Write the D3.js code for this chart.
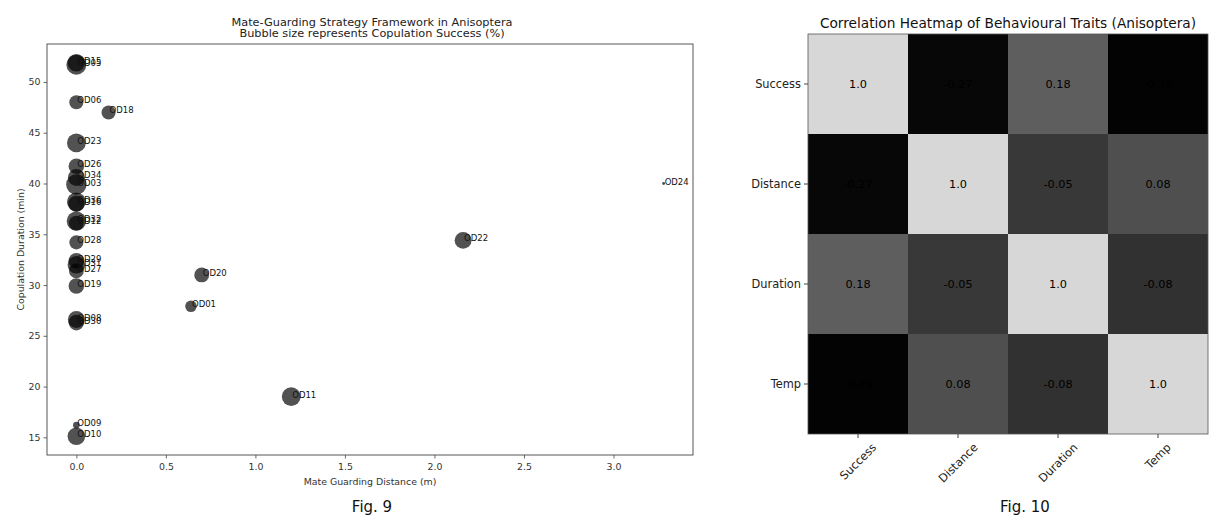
<!DOCTYPE html>
<html>
<head>
<meta charset="utf-8">
<script src="https://cdn.jsdelivr.net/npm/d3@7"></script>
<style>
  html, body { margin: 0; padding: 0; background: #fff; }
  svg { display: block; }
  text { font-family: "DejaVu Sans", sans-serif; }
</style>
</head>
<body>
<svg id="fig" width="1226" height="516"></svg>
<script>
// ---- Fig. 9 : mate-guarding bubbles ----
const specimenIds = ["OD05","OD15","OD06","OD18","OD23","OD26","OD34","OD03","OD36","OD16","OD32","OD12","OD28","OD29","OD31","OD27","OD19","OD20","OD01","OD22","OD08","OD30","OD11","OD09","OD10","OD24"];
const guardDistance = [0.0,0.0,0.0,0.18,0.0,0.0,0.0,0.0,0.0,0.0,0.0,0.0,0.0,0.0,0.0,0.0,0.0,0.70,0.64,2.16,0.0,0.0,1.20,0.0,0.0,3.28];
const copDuration   = [51.7,51.9,48.0,47.0,44.0,41.7,40.6,39.9,38.2,38.0,36.3,36.1,34.2,32.4,32.0,31.4,29.9,31.0,27.9,34.4,26.6,26.3,19.0,16.2,15.1,40.0];
const copSuccess    = [90,70,45,45,80,55,65,95,80,60,85,50,45,55,70,50,55,50,30,65,65,55,80,10,70,2];
const xTicks = [0.0,0.5,1.0,1.5,2.0,2.5,3.0];
const yTicks = [15,20,25,30,35,40,45,50];

// ---- Fig. 10 : trait correlation matrix ----
const traits = ["Success","Distance","Duration","Temp"];
const corrSuccess  = [1.0,-0.27,0.18,-0.29];
const corrDistance = [-0.27,1.0,-0.05,0.08];
const corrDuration = [0.18,-0.05,1.0,-0.08];
const corrTemp     = [-0.29,0.08,-0.08,1.0];

const svg = d3.select("#fig");

// ================= Bubble chart =================
const L = {left: 47, right: 693, top: 44, bottom: 455};
const pts = specimenIds.map((id, i) => ({id, x: guardDistance[i], y: copDuration[i], s: copSuccess[i]}));

function padded(vals) {
  const lo = d3.min(vals), hi = d3.max(vals), span = hi - lo;
  return [lo - 0.05 * span, hi + 0.05 * span];
}
const x = d3.scaleLinear().domain(padded(guardDistance)).range([L.left, L.right]);
const y = d3.scaleLinear().domain(padded(copDuration)).range([L.bottom, L.top]);
const r = d3.scaleSqrt().domain([0, 100]).range([0, 10.5]);

const g1 = svg.append("g");
const clip = g1.append("clipPath").attr("id", "plotclip");
clip.append("rect").attr("x", L.left).attr("y", L.top)
  .attr("width", L.right - L.left).attr("height", L.bottom - L.top);

const bubbles = g1.append("g").attr("clip-path", "url(#plotclip)");
bubbles.selectAll("circle").data(pts).join("circle")
  .attr("cx", d => x(d.x)).attr("cy", d => y(d.y)).attr("r", d => r(d.s))
  .attr("fill", "#000").attr("fill-opacity", 0.68);

g1.append("g").selectAll("text").data(pts).join("text")
  .attr("x", d => x(d.x) + 1).attr("y", d => y(d.y) + 1)
  .attr("font-size", 8.5).attr("fill", "#111")
  .text(d => d.id);

const xAxis = g1.append("g").attr("transform", `translate(0,${L.bottom})`)
  .call(d3.axisBottom(x).tickValues(xTicks).tickFormat(d3.format(".1f")).tickSize(3.5).tickPadding(4.5));
const yAxis = g1.append("g").attr("transform", `translate(${L.left},0)`)
  .call(d3.axisLeft(y).tickValues(yTicks).tickFormat(d3.format("d")).tickSize(3.5).tickPadding(3));
[xAxis, yAxis].forEach(a => {
  a.select(".domain").remove();
  a.selectAll(".tick line").attr("stroke", "#444").attr("stroke-width", 0.8);
  a.selectAll(".tick text").attr("font-size", 9.4).attr("fill", "#333")
    .attr("font-family", "DejaVu Sans, sans-serif");
});

g1.append("rect").attr("x", L.left).attr("y", L.top)
  .attr("width", L.right - L.left).attr("height", L.bottom - L.top)
  .attr("fill", "none").attr("stroke", "#444").attr("stroke-width", 0.9);

const cx1 = 372;
g1.append("text").attr("x", cx1).attr("y", 25.5).attr("text-anchor", "middle")
  .attr("font-size", 11.3).attr("fill", "#222")
  .text("Mate-Guarding Strategy Framework in Anisoptera");
g1.append("text").attr("x", cx1).attr("y", 37.2).attr("text-anchor", "middle")
  .attr("font-size", 11.3).attr("fill", "#222")
  .text("Bubble size represents Copulation Success (%)");
g1.append("text").attr("x", (L.left + L.right) / 2).attr("y", 485).attr("text-anchor", "middle")
  .attr("font-size", 9.4).attr("fill", "#333")
  .text("Mate Guarding Distance (m)");
g1.append("text").attr("transform", `translate(20,${(L.top + L.bottom) / 2}) rotate(-90)`)
  .attr("text-anchor", "middle").attr("dominant-baseline", "central")
  .attr("font-size", 9.4).attr("fill", "#333")
  .text("Copulation Duration (min)");

svg.append("text").attr("x", 372).attr("y", 512).attr("text-anchor", "middle")
  .attr("font-family", "Liberation Sans, Arial, sans-serif").attr("font-size", 15)
  .attr("fill", "#111").text("Fig. 9");

// ================= Correlation heatmap =================
const H = {left: 808, top: 34, size: 400};
const rows = [corrSuccess, corrDistance, corrDuration, corrTemp];
const cells = [];
rows.forEach((row, i) => row.forEach((v, j) => cells.push({i, j, v})));

const band = d3.scaleBand().domain(traits).range([0, H.size]);
const vmin = d3.min(cells, d => d.v);
const shade = d3.scaleLinear().domain([vmin, 0, 1]).range(["#030303", "#434343", "#d7d7d7"]);

const g2 = svg.append("g").attr("transform", `translate(${H.left},${H.top})`);
g2.selectAll("rect.cell").data(cells).join("rect").attr("class", "cell")
  .attr("x", d => band(traits[d.j])).attr("y", d => band(traits[d.i]))
  .attr("width", band.bandwidth()).attr("height", band.bandwidth())
  .attr("fill", d => shade(d.v));

const pyFmt = v => Number.isInteger(v) ? v.toFixed(1) : String(Math.round(v * 100) / 100);
g2.selectAll("text.val").data(cells).join("text").attr("class", "val")
  .attr("x", d => band(traits[d.j]) + band.bandwidth() / 2)
  .attr("y", d => band(traits[d.i]) + band.bandwidth() / 2)
  .attr("text-anchor", "middle").attr("dominant-baseline", "central")
  .attr("font-size", 11.3).attr("fill", "#000")
  .text(d => pyFmt(d.v));

g2.append("rect").attr("width", H.size).attr("height", H.size)
  .attr("fill", "none").attr("stroke", "#555").attr("stroke-width", 0.8);

const yAx2 = g2.append("g").call(d3.axisLeft(band).tickSize(4).tickPadding(3));
yAx2.select(".domain").remove();
yAx2.selectAll(".tick line").attr("stroke", "#444");
yAx2.selectAll(".tick text").attr("font-size", 11.4).attr("fill", "#222")
  .attr("font-family", "DejaVu Sans, sans-serif");

const xAx2 = g2.append("g").attr("transform", `translate(0,${H.size})`)
  .call(d3.axisBottom(band).tickSize(4).tickFormat(""));
xAx2.select(".domain").remove();
xAx2.selectAll(".tick line").attr("stroke", "#444");

// rotated labels, each box centred under its tick
traits.forEach(t => {
  const tx = g2.append("text").attr("font-size", 11.4).attr("fill", "#222")
    .attr("text-anchor", "middle").text(t);
  const len = tx.node().getComputedTextLength();
  const boxH = (len + 12) * Math.SQRT1_2;
  const cx = band(t) + band.bandwidth() / 2;
  const cy = H.size + 7 + boxH / 2;
  tx.attr("dominant-baseline", "central")
    .attr("transform", `translate(${cx},${cy}) rotate(-45)`);
});

svg.append("text").attr("x", H.left + H.size / 2).attr("y", 28.3).attr("text-anchor", "middle")
  .attr("font-size", 13.7).attr("fill", "#111")
  .text("Correlation Heatmap of Behavioural Traits (Anisoptera)");

svg.append("text").attr("x", 1025).attr("y", 512).attr("text-anchor", "middle")
  .attr("font-family", "Liberation Sans, Arial, sans-serif").attr("font-size", 15)
  .attr("fill", "#111").text("Fig. 10");
</script>
</body>
</html>
